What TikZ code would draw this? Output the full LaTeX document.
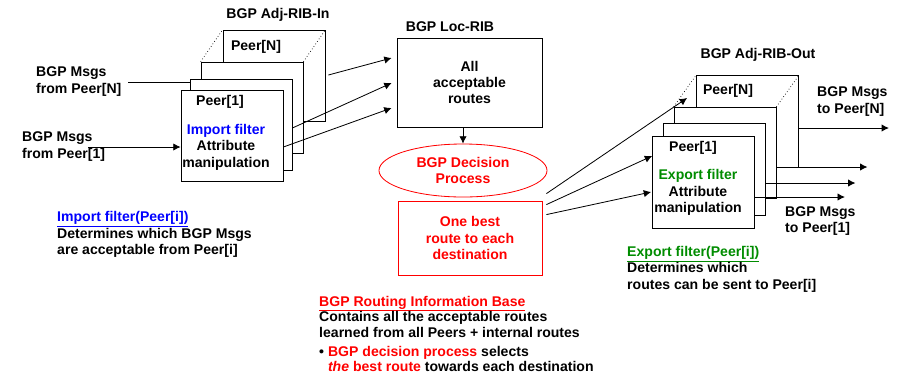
\documentclass[tikz,border=0pt]{standalone}
\usepackage{fontspec}
\setmainfont{Liberation Sans}
\usepackage{tikz}
\usetikzlibrary{arrows.meta,shapes.geometric,calc}
\definecolor{ribred}{RGB}{255,0,0}
\definecolor{ribblue}{RGB}{0,0,255}
\definecolor{ribgreen}{RGB}{0,140,0}
\tikzstyle{rib}=[draw=black, fill=white, line width=0.7pt, minimum width=3.06cm, minimum height=2.75cm, inner sep=0pt, align=center]
\tikzstyle{lbl}=[inner sep=0pt, align=center]
\tikzstyle{note}=[inner sep=0pt, align=left, anchor=west]
\tikzstyle{arrow}=[draw=black, line width=0.7pt, -{Latex[length=2.2mm, width=2.2mm]}]
\tikzstyle{link}=[draw=black, line width=0.7pt, -]
\tikzstyle{fold}=[draw=black, line width=0.6pt, dotted, -]

\begin{document}
\begin{tikzpicture}[x=0.03cm, y=-0.03cm, font=\fontsize{12}{14}\selectfont\bfseries]
		   \useasboundingbox (0,0) rectangle (897,378);
		   \begin{scope}
			   \node (inN) at (274,76)[rib] {};
			   \node (in3) at (252,108)[rib] {};
			   \node (in2) at (241,125)[rib] {};
			   \node (in1) at (232,136)[rib] {};
			   \node (inTitle) at (278,15)[lbl] {BGP Adj-RIB-In};
			   \node (inNpeer) at (256,47)[lbl] {Peer[N]};
			   \node (in1peer) at (220,102)[lbl] {Peer[1]};
			   \node (in1txt) at (226,147)[lbl] {\textcolor{ribblue}{Import filter}\\Attribute\\manipulation};

			   \node (msgInN) at (36,81.5)[note] {BGP Msgs\\from Peer[N]};
			   \node (msgIn1) at (22,146.5)[note] {BGP Msgs\\from Peer[1]};
			   \coordinate (msgInNend) at (128,82);
			   \coordinate (msgIn1end) at (88,147);

			   \node (locTitle) at (450,27)[lbl] {BGP Loc-RIB};
			   \node (loc) at (469.5,82.5)[rib, minimum width=4.35cm, minimum height=2.67cm] {All\\acceptable\\routes};
			   \node (dec) at (463,170.5)[ellipse, draw=ribred, line width=0.7pt, minimum width=5.04cm, minimum height=1.59cm, inner sep=0pt, text=ribred, align=center] {BGP Decision\\Process};
			   \node (best) at (470,238)[rib, draw=ribred, minimum width=4.32cm, minimum height=2.22cm, text=ribred] {One best\\route to each\\destination};

			   \node (outN) at (747.5,121.5)[rib] {};
			   \node (out3) at (725,153)[rib] {};
			   \node (out2) at (714,169.5)[rib] {};
			   \node (out1) at (703.5,182.5)[rib] {};
			   \node (outTitle) at (758,55)[lbl] {BGP Adj-RIB-Out};
			   \node (outNpeer) at (728,91)[lbl] {Peer[N]};
			   \node (out1peer) at (693,148)[lbl] {Peer[1]};
			   \node (out1txt) at (698,192.5)[lbl] {\textcolor{ribgreen}{Export filter}\\Attribute\\manipulation};

			   \node (msgOutN) at (817,101.5)[note] {BGP Msgs\\to Peer[N]};
			   \node (msgOut1) at (785,221)[note] {BGP Msgs\\to Peer[1]};

			   \node (inNote) at (57,234.5)[note] {\textcolor{ribblue}{\underline{Import filter(Peer[i])}}\\Determines which BGP Msgs\\are acceptable from Peer[i]};
			   \node (outNote) at (627,269)[note] {\textcolor{ribgreen}{\underline{Export filter(Peer[i])}}\\Determines which\\routes can be sent to Peer[i]};
			   \node (ribNote) at (319,334)[note, font=\fontsize{12}{13.3}\selectfont\bfseries] {\textcolor{ribred}{\underline{BGP Routing Information Base}}\\Contains all the acceptable routes\\learned from all Peers + internal routes\\[3pt]\textbullet\ \textcolor{ribred}{BGP decision process} selects\\\phantom{\textbullet\ }\textcolor{ribred}{\textit{the} best route} towards each destination};
		   \end{scope}
		   \begin{scope}
			   \path (in3.north west) edge [fold] (inN.north west);
			   \path (in3.north east) edge [fold] (inN.north east);
			   \path (out3.north west) edge [fold] (outN.north west);
			   \path (out3.north east) edge [fold] (outN.north east);

			   \path (msgInNend) edge [link] (msgInNend -| in2.west);
			   \path (msgIn1end) edge [arrow] (msgIn1end -| in1.west);

			   \path ($(inN.east)+(3,-1)$) edge [arrow] ($(loc.west)+(-5,-24.5)$);
			   \path ($(in2.east)+(0,3)$) edge [arrow] ($(loc.west)+(-5,0.5)$);
			   \path ($(in1.east)+(0,11)$) edge [arrow] ($(loc.west)+(-5,25.5)$);

			   \path (dec.north |- loc.south) edge [arrow] (dec.north);

			   \path ($(best.north east)+(4,-7)$) edge [arrow] ($(outN.west)+(-9,-23.5)$);
			   \path ($(best.north east)+(4,4)$) edge [arrow] ($(out1.west)+(0,-26.5)$);
			   \path ($(best.north east)+(4,14)$) edge [arrow] ($(out1.west)+(-1,9.5)$);

			   \path ($(outN.east)+(0,6.5)$) edge [arrow] ($(outN.east)+(90,6.5)$);
			   \path ($(out3.east)+(1,14)$) edge [arrow] ($(out3.east)+(91,14)$);
			   \path ($(out2.east)+(0,13.5)$) edge [arrow] ($(out2.east)+(90,13.5)$);
			   \path ($(out1.east)+(0,14.5)$) edge [arrow] ($(out1.east)+(90,14.5)$);
		   \end{scope}
	   \end{tikzpicture}
\end{document}
